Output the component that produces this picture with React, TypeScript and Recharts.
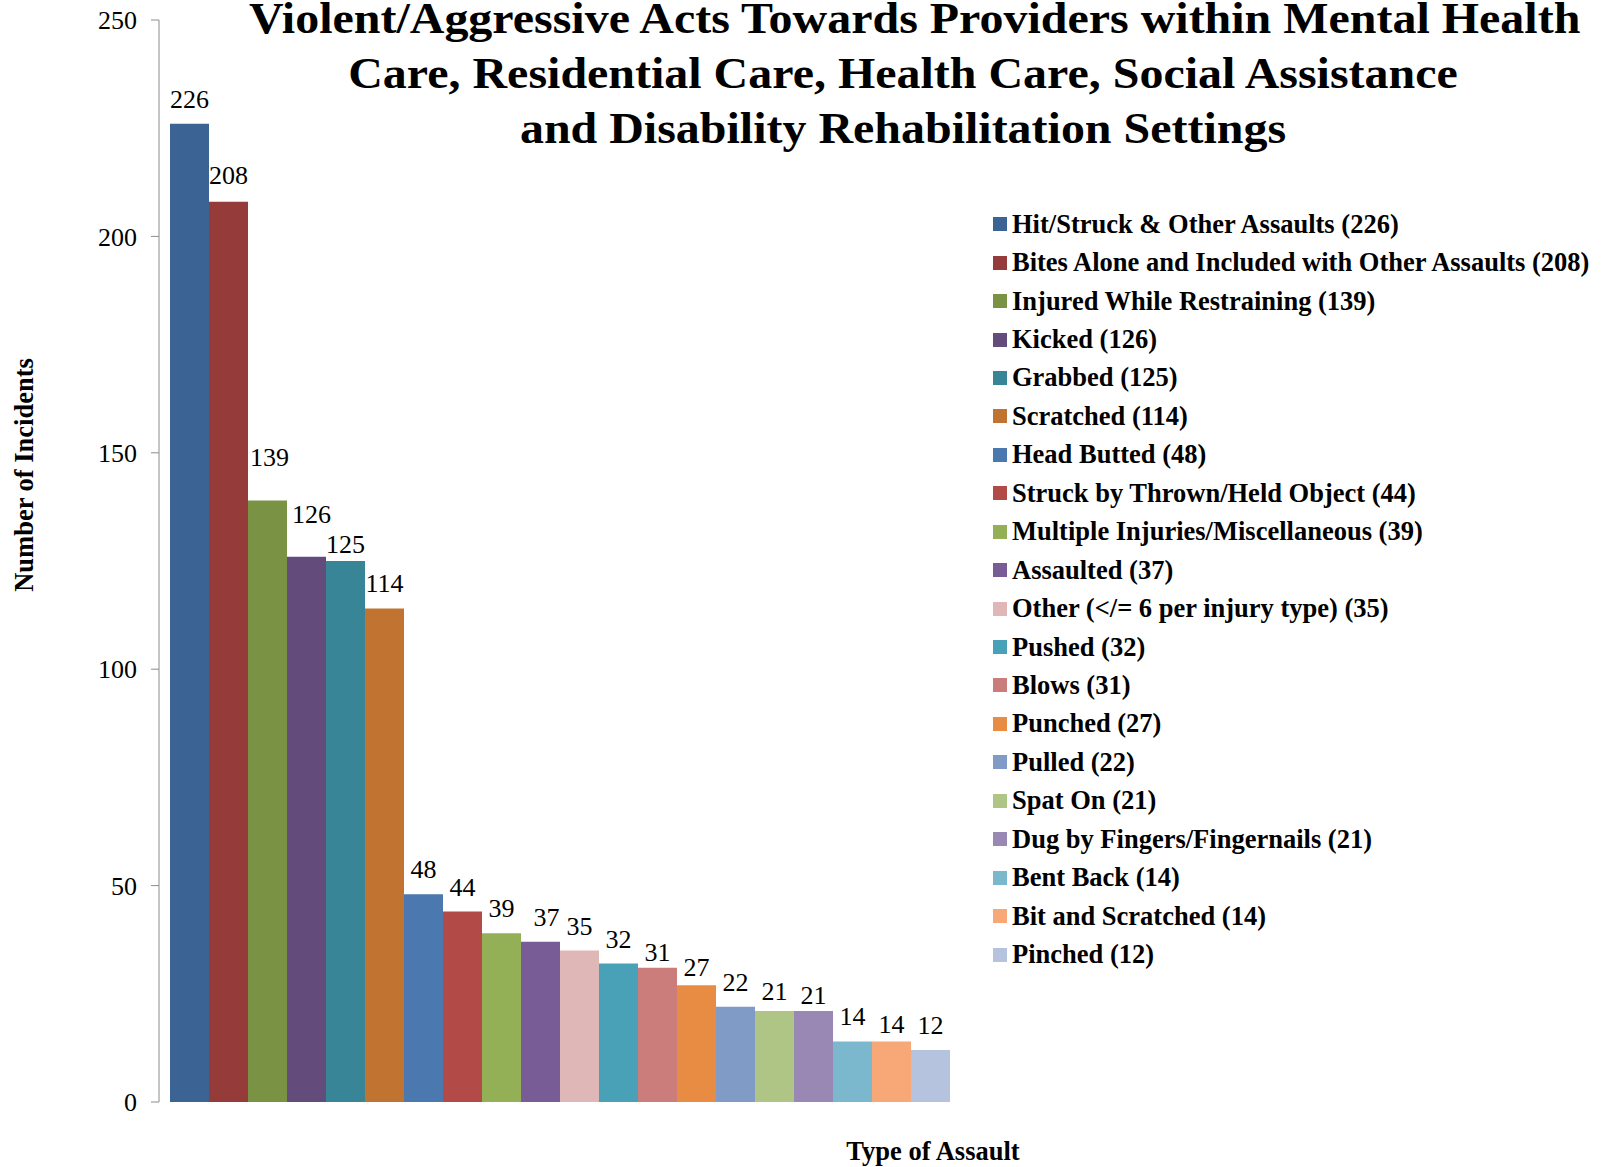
import { BarChart, Bar, XAxis, YAxis, Legend, Cell, LabelList } from "recharts";

const assaultTypes = [
  "Hit/Struck & Other Assaults",
  "Bites Alone and Included with Other Assaults",
  "Injured While Restraining",
  "Kicked",
  "Grabbed",
  "Scratched",
  "Head Butted",
  "Struck by Thrown/Held Object",
  "Multiple Injuries/Miscellaneous",
  "Assaulted",
  "Other (</= 6 per injury type)",
  "Pushed",
  "Blows",
  "Punched",
  "Pulled",
  "Spat On",
  "Dug by Fingers/Fingernails",
  "Bent Back",
  "Bit and Scratched",
  "Pinched",
];

const incidents = [226, 208, 139, 126, 125, 114, 48, 44, 39, 37, 35, 32, 31, 27, 22, 21, 21, 14, 14, 12];

const barColors = [
  "#3B6494", "#953B3A", "#7A9244", "#634C7B", "#378597", "#C17432",
  "#4A78AF", "#B24A48", "#93B056", "#775C96", "#DEB7B6", "#49A1B7",
  "#CB7D7C", "#E88B43", "#7F9BC6", "#AEC585", "#9A88B4", "#7BB8CE",
  "#F7A876", "#B6C3DE",
];

// the original labels were nudged by hand in a few places (extra lift in px)
const labelLift = [0, 2, 18, 18, -8, 1, 0, 0, 0, 0, 0, 0, -9, -7, 0, -5, -9, 0, -8, 0];
const labelNudgeX = [0, 0, 2, 5, 0, 0, 0, 0, 0, 6, 0, 0, 0, 0, 0, 0, 0, 0, 0, 0];

const yTicks = [0, 50, 100, 150, 200, 250];

const titleLines = [
  "Violent/Aggressive Acts Towards Providers within Mental Health",
  "Care, Residential Care, Health Care, Social Assistance",
  "and Disability Rehabilitation Settings",
];

const serif = '"Liberation Serif", "Times New Roman", serif';

const chartData = assaultTypes.map((name, i) => ({ name, value: incidents[i] }));

const LegendList = () => (
  <ul style={{ listStyle: "none", margin: 0, padding: 0 }}>
    {assaultTypes.map((name, i) => (
      <li
        key={name}
        style={{
          height: 38.44,
          display: "flex",
          alignItems: "center",
          fontFamily: serif,
          fontWeight: "bold",
          fontSize: 26.5,
          whiteSpace: "nowrap",
          color: "#000",
        }}
      >
        <span
          style={{
            display: "inline-block",
            width: 14,
            height: 14,
            background: barColors[i],
            marginRight: 5,
          }}
        />
        {`${name} (${incidents[i]})`}
      </li>
    ))}
  </ul>
);

const renderValueLabel = (props: any) => {
  const { x, y, width, value, index } = props;
  return (
    <text
      x={x + width / 2 + (labelNudgeX[index] || 0)}
      y={y - 16 - (labelLift[index] || 0)}
      textAnchor="middle"
      fontFamily={serif}
      fontSize={26}
      fill="#000"
    >
      {value}
    </text>
  );
};

const App = () => {
  return (
    <div style={{ position: "absolute", left: 0, top: 0, width: 1606, height: 1167 }}>
      <BarChart
        width={1606}
        height={1167}
        data={chartData}
        barCategoryGap={0}
        margin={{ top: 20, right: 645, bottom: 0, left: 79 }}
      >
        <XAxis
          dataKey="name"
          tick={false}
          tickLine={false}
          axisLine={false}
          height={65}
          padding={{ left: 11, right: 11 }}
          label={{
            content: () => (
              <text
                x={933}
                y={1160}
                textAnchor="middle"
                fontFamily={serif}
                fontWeight="bold"
                fontSize={26.5}
                fill="#000"
              >
                Type of Assault
              </text>
            ),
          }}
        />
        <YAxis
          width={80}
          domain={[0, 250]}
          ticks={yTicks}
          interval={0}
          stroke="#8C8C8C"
          tickSize={8}
          tickMargin={14}
          tick={{ fontFamily: serif, fontSize: 26, fill: "#000" }}
          label={{
            content: () => (
              <text
                x={24}
                y={475}
                transform="rotate(-90, 24, 475)"
                textAnchor="middle"
                dominantBaseline="central"
                fontFamily={serif}
                fontWeight="bold"
                fontSize={26.5}
                fill="#000"
              >
                Number of Incidents
              </text>
            ),
          }}
        />
        <Legend
          layout="vertical"
          align="center"
          verticalAlign="middle"
          wrapperStyle={{ left: 993, top: 205, width: 610 }}
          content={() => <LegendList />}
        />
        <Bar dataKey="value" isAnimationActive={false}>
          {chartData.map((d, i) => (
            <Cell key={d.name} fill={barColors[i]} />
          ))}
          <LabelList dataKey="value" content={renderValueLabel} />
        </Bar>
      </BarChart>
      <div
        style={{
          position: "absolute",
          left: 303,
          top: -9,
          width: 1200,
          textAlign: "center",
          fontFamily: serif,
          fontWeight: "bold",
          fontSize: 44,
          lineHeight: "55px",
          color: "#000",
          transform: "scaleX(1.09)",
          transformOrigin: "50% 50%",
        }}
      >
        {titleLines.map((line) => (
          <div key={line} style={{ whiteSpace: "nowrap" }}>
            {line}
          </div>
        ))}
      </div>
    </div>
  );
};

export default App;
